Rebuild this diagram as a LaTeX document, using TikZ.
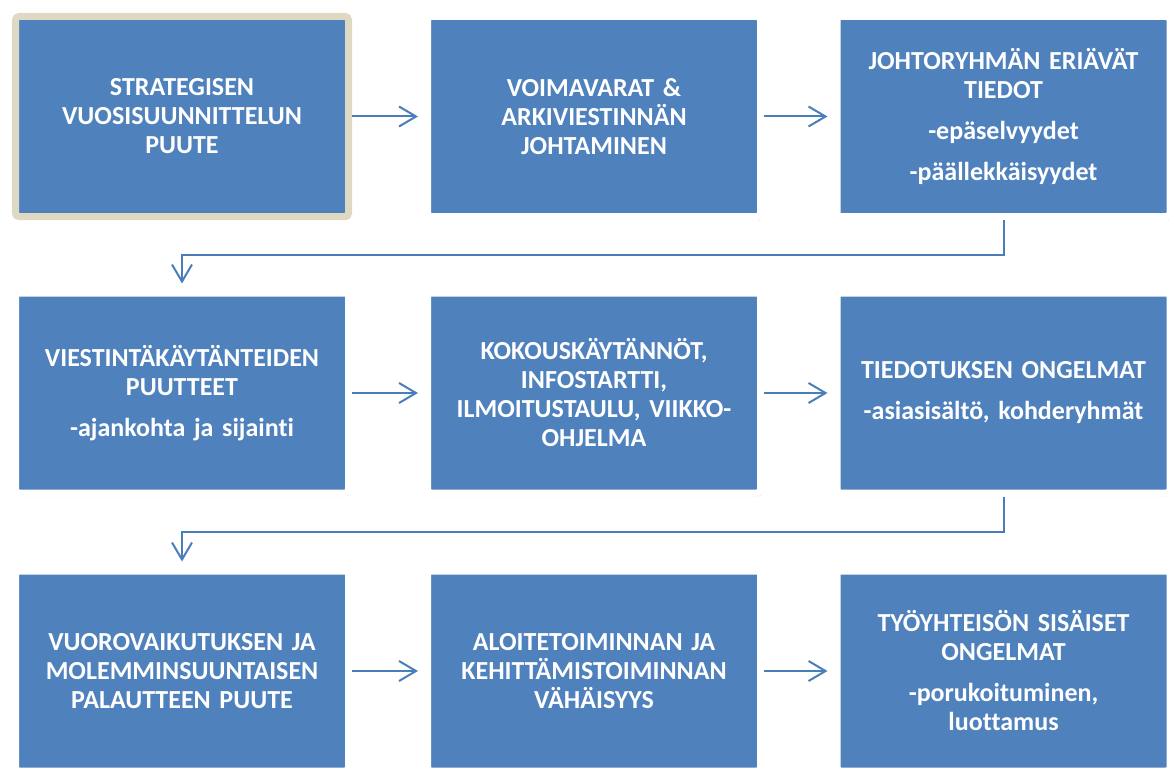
\documentclass[tikz,border=0pt]{standalone}
\usepackage{fontspec}
\setmainfont{Carlito}[Ligatures=NoCommon]
\usepackage{tikz}
\usetikzlibrary{positioning,arrows.meta,shadows}
\definecolor{boxblue}{RGB}{79,129,189}
\definecolor{linkblue}{RGB}{74,126,187}
\definecolor{tanframe}{RGB}{221,217,195}

\begin{document}
\begin{tikzpicture}[x=1pt, y=-1pt, >={Straight Barb[length=17pt,width=20pt]},
    box/.style={rectangle, fill=boxblue, draw=white, line width=7pt,
      rounded corners=3.5pt, minimum width=333pt, minimum height=200pt,
      text width=318pt, align=center, text=white,
      font=\fontsize{26}{29}\selectfont\bfseries,
      drop shadow={shadow xshift=2pt, shadow yshift=-3pt, opacity=0.3, fill=black}},
    firstbox/.style={box, draw=tanframe},
    link/.style={->, draw=linkblue, line width=2pt, shorten >=6pt}]
  \useasboundingbox (0,0) rectangle (1169,773);

  % row 1
  \node[firstbox] (strat) at (182,116.5) {STRATEGISEN\\VUOSISUUNNITTELUN\\PUUTE};
  \node[box] (voima) at (594,116.5) {VOIMAVARAT \&\\ARKIVIESTINNÄN\\JOHTAMINEN};
  \node[box] (johto) at (1003.5,116.5) {JOHTORYHMÄN ERIÄVÄT\\TIEDOT\\[12pt]-epäselvyydet\\[12pt]-päällekkäisyydet};

  % row 2
  \node[box] (viest) at (182,393) {VIESTINTÄKÄYTÄNTEIDEN\\PUUTTEET\\[12pt]-ajankohta ja sijainti};
  \node[box] (kokous) at (594,393) {KOKOUSKÄYTÄNNÖT,\\INFOSTARTTI,\\ILMOITUSTAULU, VIIKKO-\\OHJELMA};
  \node[box] (tiedot) at (1003.5,393) {TIEDOTUKSEN ONGELMAT\\[12pt]-asiasisältö, kohderyhmät};

  % row 3
  \node[box] (vuoro) at (182,671) {VUOROVAIKUTUKSEN JA\\MOLEMMINSUUNTAISEN\\PALAUTTEEN PUUTE};
  \node[box] (aloite) at (594,671) {ALOITETOIMINNAN JA\\KEHITTÄMISTOIMINNAN\\VÄHÄISYYS};
  \node[box] (tyoyht) at (1003.5,671) {TYÖYHTEISÖN SISÄISET\\ONGELMAT\\[12pt]-porukoituminen,\\luottamus};

  \foreach \a/\b in {strat/voima, voima/johto, viest/kokous, kokous/tiedot, vuoro/aloite, aloite/tyoyht} {
    \draw[link] (\a.east) -- (\b.west);
  }
  \draw[link] (johto.south) -- ++(0,35) -| (viest.north);
  \draw[link] (tiedot.south) -- ++(0,35) -| (vuoro.north);
\end{tikzpicture}
\end{document}
